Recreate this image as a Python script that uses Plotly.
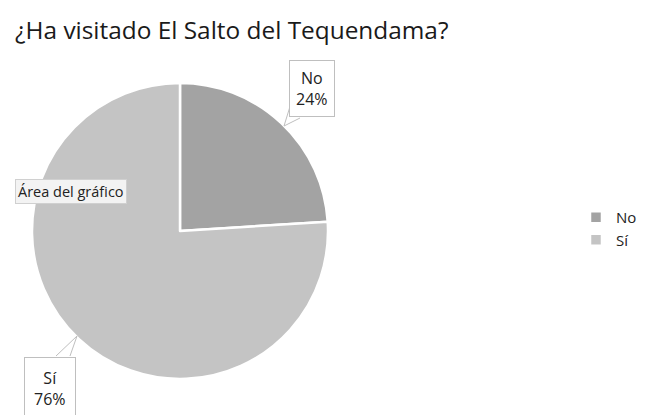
import plotly.graph_objects as go

labels = ["No", "Sí"]
values = [24, 76]
colors = ["#a3a3a3", "#c4c4c4"]
title_text = "¿Ha visitado El Salto del Tequendama?"

W, H = 645, 415
fig = go.Figure()
fig.add_trace(go.Pie(
    labels=labels, values=values, sort=False, direction="clockwise", rotation=0,
    marker=dict(colors=colors, line=dict(color="white", width=2.5)),
    textinfo="none", hoverinfo="none",
    domain=dict(x=[32 / W, 328 / W], y=[(H - 379) / H, (H - 83) / H]),
))

font_main = "Open Sans, Calibri, sans-serif"

shapes = [
    dict(type="line", xref="paper", yref="paper", x0=292 / W, y0=(H - 100) / H, x1=284 / W, y1=(H - 126) / H,
         line=dict(color="#bfbfbf", width=1)),
    dict(type="line", xref="paper", yref="paper", x0=284 / W, y0=(H - 126) / H, x1=300 / W, y1=(H - 118) / H,
         line=dict(color="#bfbfbf", width=1)),
    dict(type="line", xref="paper", yref="paper", x0=56 / W, y0=(H - 356) / H, x1=77 / W, y1=(H - 336) / H,
         line=dict(color="#bfbfbf", width=1)),
    dict(type="line", xref="paper", yref="paper", x0=77 / W, y0=(H - 336) / H, x1=70 / W, y1=(H - 356) / H,
         line=dict(color="#bfbfbf", width=1)),
]

annotations = [
    dict(text=title_text, x=13 / W, y=(H - 29) / H, xref="paper", yref="paper", xanchor="left", yanchor="middle",
         showarrow=False, font=dict(family=font_main, size=24.4, color="#1a1a1a")),
    dict(text="No<br>24%", x=312 / W, y=(H - 89) / H, xref="paper", yref="paper", xanchor="center", yanchor="middle",
         showarrow=False, font=dict(family=font_main, size=16, color="#222"), bgcolor="white",
         bordercolor="#bfbfbf", borderwidth=1, borderpad=6, align="center"),
    dict(text="Sí<br>76%", x=50 / W, y=(H - 388) / H, xref="paper", yref="paper", xanchor="center", yanchor="middle",
         showarrow=False, font=dict(family=font_main, size=16, color="#222"), bgcolor="white",
         bordercolor="#bfbfbf", borderwidth=1, borderpad=9, align="center"),
    dict(text="Área del gráfico", x=71 / W, y=(H - 191) / H, xref="paper", yref="paper", xanchor="center", yanchor="middle",
         showarrow=False, font=dict(family=font_main, size=14.5, color="#222"), bgcolor="#f3f3f3",
         bordercolor="#d0d0d0", borderwidth=1, borderpad=2),
]

fig.update_layout(
    width=W, height=H, margin=dict(l=0, r=0, t=0, b=0),
    paper_bgcolor="white", plot_bgcolor="white",
    showlegend=True,
    legend=dict(x=576 / W, y=(H - 201) / H, xanchor="left", yanchor="top",
                font=dict(family=font_main, size=15, color="#222"),
                itemwidth=30, tracegroupgap=8, bgcolor="rgba(0,0,0,0)"),
    shapes=shapes, annotations=annotations,
)

fig.write_html("out.html")
